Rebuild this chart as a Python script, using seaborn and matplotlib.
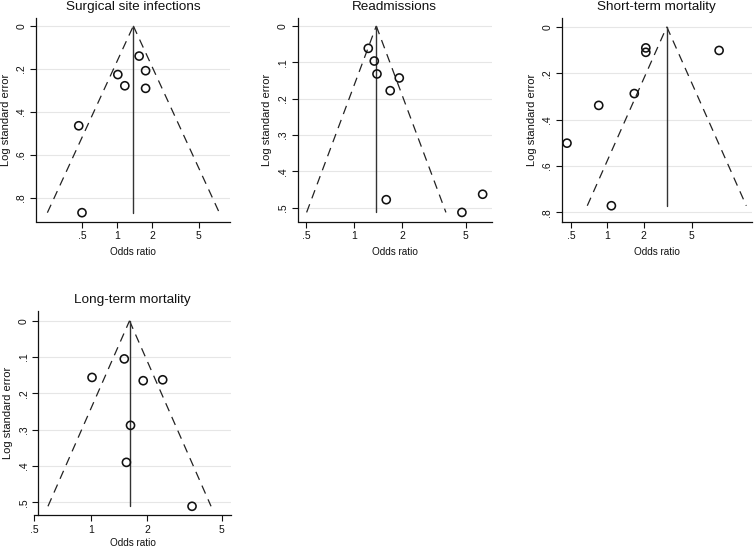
import numpy as np
import pandas as pd
import matplotlib
matplotlib.use("Agg")
import matplotlib.pyplot as plt
import seaborn as sns
from matplotlib.ticker import FixedLocator, FuncFormatter, NullLocator

# ---------------- data ----------------
titles = ["Surgical site infections", "Readmissions", "Short-term mortality", "Long-term mortality"]

ssi_or = [1.54, 1.75, 1.01, 1.16, 1.75, 0.466, 0.497]
ssi_se = [0.140, 0.208, 0.226, 0.278, 0.290, 0.464, 0.868]
ssi_pooled = 1.373

readm_or = [1.224, 1.335, 1.388, 1.915, 1.68, 1.587, 4.73, 6.38]
readm_se = [0.0615, 0.0964, 0.132, 0.143, 0.178, 0.478, 0.513, 0.463]
readm_pooled = 1.374

stm_or = [2.08, 2.08, 8.39, 1.67, 0.849, 0.464, 1.08]
stm_se = [0.091, 0.110, 0.102, 0.288, 0.339, 0.502, 0.772]
stm_pooled = 3.1

ltm_or = [1.51, 1.016, 1.905, 2.42, 1.63, 1.55, 3.47]
ltm_se = [0.105, 0.156, 0.165, 0.1625, 0.288, 0.390, 0.511]
ltm_pooled = 1.61

x_ticks = [0.5, 1, 2, 5]
x_tick_labels = [".5", "1", "2", "5"]
y_ticks_list = [[0, 0.2, 0.4, 0.6, 0.8],
                [0, 0.1, 0.2, 0.3, 0.4, 0.5],
                [0, 0.2, 0.4, 0.6, 0.8],
                [0, 0.1, 0.2, 0.3, 0.4, 0.5]]

panels = [
    (ssi_or, ssi_se, ssi_pooled),
    (readm_or, readm_se, readm_pooled),
    (stm_or, stm_se, stm_pooled),
    (ltm_or, ltm_se, ltm_pooled),
]

# ---------------- layout (pixels) ----------------
W, H = 756, 548
rects = [
    (36, 18, 230, 221.5),
    (297.7, 18, 491.7, 221.5),
    (562, 18, 751.7, 221.5),
    (34.3, 311, 231, 515),
]
xlims = [(0.2, 9.3), (0.442, 7.27), (0.422, 15.6), (0.5, 5.6)]
ylims = [(0.909, -0.037), (0.538, -0.022), (0.840, -0.038), (0.535, -0.027)]
left_spine_at = [None, None, None, 0.525]
xlabel_pad = [4, 4, 4, 2]

sns.set_theme(style="white")
plt.rcParams["font.family"] = ["Liberation Sans", "DejaVu Sans"]

fig = plt.figure(figsize=(W / 100, H / 100), dpi=100)

for i, ((ors, ses, pooled), (l, t, r, b)) in enumerate(zip(panels, rects)):
    ax = fig.add_axes([l / W, 1 - b / H, (r - l) / W, (b - t) / H])
    df = pd.DataFrame({"or": ors, "se": ses})
    ax.set_xscale("log")
    ax.set_xlim(*xlims[i])
    ax.set_ylim(*ylims[i])

    # horizontal grid
    gx0 = left_spine_at[i] if left_spine_at[i] else xlims[i][0]
    ax.hlines(y_ticks_list[i], gx0, xlims[i][1], color="#e6e6e6", lw=0.8, zorder=0)

    # funnel
    se_max = max(ses)
    lp = np.log(pooled)
    lo = np.exp(lp - 1.96 * se_max)
    hi = np.exp(lp + 1.96 * se_max)
    ax.plot([lo, pooled], [se_max, 0], color="#222222", lw=0.9,
            dashes=(7, 5), zorder=1)
    ax.plot([pooled, hi], [0, se_max], color="#222222", lw=0.9,
            dashes=(7, 5), zorder=1)
    ax.plot([pooled, pooled], [0, se_max], color="#333333", lw=1.0, zorder=1)

    sns.scatterplot(data=df, x="or", y="se", ax=ax, s=34, marker="o",
                    facecolor="none", edgecolor="#111111", linewidth=1.15,
                    zorder=3, legend=False)

    ax.set_xlim(*xlims[i])
    ax.set_ylim(*ylims[i])
    ax.xaxis.set_major_locator(FixedLocator(x_ticks))
    ax.xaxis.set_minor_locator(NullLocator())
    ax.set_xticklabels(x_tick_labels)
    ax.yaxis.set_major_locator(FixedLocator(y_ticks_list[i]))
    ax.yaxis.set_major_formatter(FuncFormatter(
        lambda v, p: "0" if abs(v) < 1e-9 else f"{v:g}".lstrip("0")))

    for s in ["top", "right"]:
        ax.spines[s].set_visible(False)
    for s in ["left", "bottom"]:
        ax.spines[s].set_color("#111111")
        ax.spines[s].set_linewidth(0.9)
    if left_spine_at[i]:
        ax.spines["left"].set_position(("data", left_spine_at[i]))

    ax.tick_params(axis="both", which="major", direction="out", length=4,
                   width=0.8, color="#111111", labelsize=7.5,
                   labelcolor="#111111", left=True, bottom=True, pad=3)
    ax.tick_params(axis="y", labelrotation=90)
    for lab in ax.get_yticklabels():
        lab.set_va("center")

    ax.set_xlabel("Odds ratio", fontsize=7.2, color="#111111", labelpad=xlabel_pad[i])
    ax.set_ylabel("Log standard error", fontsize=8, color="#111111", labelpad=4)
    ax.set_title(titles[i], fontsize=9.7, color="#111111", pad=5.5)
    ax.set_facecolor("white")

fig.savefig("out.png", dpi=100, facecolor="white")
